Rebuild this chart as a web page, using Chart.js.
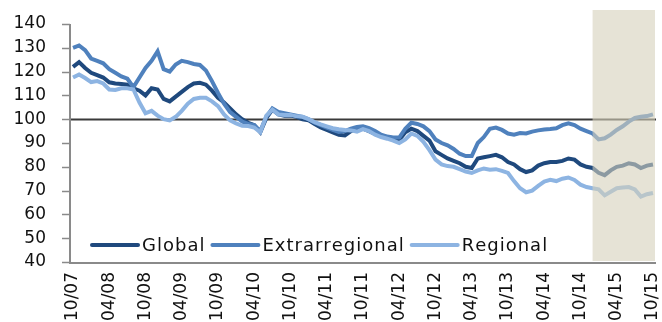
<!DOCTYPE html>
<html>
<head>
<meta charset="utf-8">
<script src="https://cdn.jsdelivr.net/npm/chart.js@4/dist/chart.umd.min.js"></script>
<style>
  html, body { margin: 0; padding: 0; background: #ffffff; }
  #wrap { width: 662px; height: 322px; position: relative; }
</style>
</head>
<body>
<div id="wrap"><canvas id="chart"></canvas></div>
<script>
// Monthly index series, October 2007 to October 2015 (base = 100)
const globalSeries = [
  122, 124, 121.5, 119.5, 118.5, 117.5, 115.5, 115, 114.8, 114.5,
  113, 112, 110, 113, 112.5, 108.5, 107.5, 109.5, 111.5, 113.5,
  115, 115.3, 114.5, 112, 109, 107, 104.5, 102, 100, 98.5,
  97.5, 94.5, 100.5, 104, 102, 101.5, 101.5, 101, 100, 99.5,
  98, 96.5, 95.5, 94.5, 93.5, 93.2, 95, 96, 96, 95,
  93.8, 93, 92.5, 92, 91.3, 94.5, 96, 95, 93, 91,
  86.5, 85, 83.5, 82.5, 81.5, 80, 79.5, 83.5, 84, 84.5,
  85, 84, 82, 81, 79, 77.8, 78.5, 80.5, 81.5, 82,
  82, 82.5, 83.5, 83, 81, 80, 79.5, 77.5, 76.5, 78.5,
  80, 80.5, 81.5, 81, 79.5, 80.5, 81
];
const extraSeries = [
  130, 131, 129, 125.5, 124.5, 123.5, 121, 119.5, 118, 117,
  113.5, 117.5, 121.5, 124.5, 128.5, 121, 120, 123, 124.5, 124,
  123.2, 122.8, 120.5, 116, 111, 106.5, 103, 101, 99, 98,
  97.5, 95, 101, 104.5, 103, 102.5, 102, 101.5, 101, 100,
  98.5, 97.5, 96.5, 95.5, 94.6, 95, 96, 96.7, 97, 96.3,
  95, 93.5, 92.7, 92.3, 92.3, 96, 98.5, 98, 97, 95,
  91.5, 90, 89, 87.5, 85.5, 84.5, 84.5, 90, 92.5, 96,
  96.5, 95.5, 94, 93.5, 94.2, 94, 94.8, 95.3, 95.7, 95.9,
  96.2, 97.5, 98.3, 97.5, 96, 95, 94, 91.5, 92, 93.5,
  95.5, 97, 99, 100.5, 101, 101.3, 102
];
const regionalSeries = [
  117.5, 118.8, 117.3, 115.6, 116, 115, 112.5, 112.3, 113, 113,
  112.5, 107, 102.5, 103.5, 101.5, 100, 99.5, 101, 103.5, 106.5,
  108.5, 109, 109, 107.5, 105.5, 102, 99.5, 98.2, 97.2, 97.1,
  96.5, 94.5, 101.5, 104, 102, 101.8, 101.8, 101.2, 101, 100,
  98.8, 97.8, 97, 96.2, 95.8, 95.5, 95.3, 94.8, 95.8, 95,
  93.5, 92.5, 91.8, 91, 90, 91.5, 94, 93, 90.5, 87,
  83, 81, 80.3, 80, 79, 78, 77.4, 78.5, 79.3, 78.8,
  79, 78.3, 77.4, 74, 71, 69.3, 70, 72, 73.8, 74.5,
  74, 75, 75.5, 74.5, 72.5, 71.5, 71, 70.5, 68, 69.5,
  71, 71.3, 71.5, 70.5, 67.5, 68.5, 69
];

// Axis labels shown under the chart (every six months)
const tickLabels = ['10/07', '04/08', '10/08', '04/09', '10/09', '04/10', '10/10',
  '04/11', '10/11', '04/12', '10/12', '04/13', '10/13', '04/14', '10/14', '04/15', '10/15'];

// Base level of the index
const baseLevel = 100;

// Forecast period starts after this month
const forecastFrom = '12/14';

// Month categories MM/YY
const months = [];
for (let i = 0; i < globalSeries.length; i++) {
  const k = 9 + i;
  const m = (k % 12) + 1;
  const y = 7 + Math.floor(k / 12);
  months.push(String(m).padStart(2, '0') + '/' + String(y).padStart(2, '0'));
}

const FONT = 'DejaVu Sans';
const AXIS_GREY = '#8a8a8a';

// Horizontal reference line at the base level, under the series
const baseLine = {
  id: 'baseLine',
  beforeDatasetsDraw(chart) {
    const { ctx, chartArea, scales } = chart;
    const yPix = Math.round(scales.y.getPixelForValue(baseLevel)) + 0.5;
    ctx.save();
    ctx.strokeStyle = '#3a3a3a';
    ctx.lineWidth = 1.8;
    ctx.beginPath();
    ctx.moveTo(chartArea.left, yPix);
    ctx.lineTo(chartArea.right, yPix);
    ctx.stroke();
    ctx.restore();
  }
};

// Shaded forecast band, painted over the lines
const forecastBand = {
  id: 'forecastBand',
  afterDatasetsDraw(chart) {
    const { ctx, chartArea, scales } = chart;
    const x0 = scales.x.getPixelForValue(months.indexOf(forecastFrom));
    ctx.save();
    ctx.fillStyle = 'rgba(213, 208, 187, 0.6)';
    ctx.fillRect(x0, 10, chartArea.right - 1 - x0, chartArea.bottom - 1 - 10);
    ctx.restore();
  }
};

// Axis lines and y tick marks
const axisLines = {
  id: 'axisLines',
  afterDraw(chart) {
    const { ctx, chartArea, scales } = chart;
    ctx.save();
    ctx.strokeStyle = AXIS_GREY;
    ctx.lineWidth = 2;
    ctx.beginPath();
    ctx.moveTo(chartArea.left, chartArea.top);
    ctx.lineTo(chartArea.left, chartArea.bottom + 1);
    ctx.lineTo(chartArea.right, chartArea.bottom + 1);
    ctx.stroke();
    ctx.lineWidth = 1.5;
    ctx.beginPath();
    scales.y.ticks.forEach(t => {
      const yPix = Math.round(scales.y.getPixelForValue(t.value)) + 0.5;
      ctx.moveTo(chartArea.left - 8, yPix);
      ctx.lineTo(chartArea.left, yPix);
    });
    ctx.stroke();
    ctx.restore();
  }
};

// Legend drawn inside the plot, along the bottom
const innerLegend = {
  id: 'innerLegend',
  afterDraw(chart) {
    const { ctx } = chart;
    const y = 245;
    let x = 92;
    ctx.save();
    ctx.font = '18px "' + FONT + '"';
    ctx.textBaseline = 'middle';
    ctx.textAlign = 'left';
    const spacing = 1;
    chart.data.datasets.forEach(ds => {
      ctx.strokeStyle = ds.borderColor;
      ctx.lineWidth = 4;
      ctx.lineCap = 'round';
      ctx.beginPath();
      ctx.moveTo(x, y);
      ctx.lineTo(x + 46, y);
      ctx.stroke();
      ctx.fillStyle = '#111111';
      let tx = x + 50;
      for (const ch of ds.label) {
        ctx.fillText(ch, tx, y + 1);
        tx += ctx.measureText(ch).width + spacing;
      }
      x = tx + 7;
    });
    ctx.restore();
  }
};

new Chart(document.getElementById('chart'), {
  type: 'line',
  data: {
    labels: months,
    datasets: [
      { label: 'Global', data: globalSeries, borderColor: '#1f497d', borderWidth: 4, pointRadius: 0, tension: 0, order: 3 },
      { label: 'Extrarregional', data: extraSeries, borderColor: '#4f81bd', borderWidth: 4, pointRadius: 0, tension: 0, order: 2 },
      { label: 'Regional', data: regionalSeries, borderColor: '#8db4e2', borderWidth: 4, pointRadius: 0, tension: 0, order: 1 }
    ]
  },
  options: {
    responsive: true,
    maintainAspectRatio: false,
    animation: false,
    layout: { padding: { left: 0, right: 6, top: 24, bottom: 0 } },
    plugins: {
      legend: { display: false },
      tooltip: { enabled: false }
    },
    scales: {
      x: {
        offset: true,
        afterFit(scale) {
          scale.height = 60;
          scale.paddingLeft = 0;
          scale.paddingRight = 0;
        },
        border: { display: false },
        grid: { display: false, drawTicks: false },
        ticks: {
          autoSkip: false,
          minRotation: 90,
          maxRotation: 90,
          padding: 10,
          color: '#111111',
          font: { family: FONT, size: 17 },
          callback(value) {
            const lab = months[value];
            return tickLabels.includes(lab) ? lab : '';
          }
        }
      },
      y: {
        min: 40,
        max: 140,
        afterFit(scale) {
          scale.width = 70;
          scale.paddingTop = 0;
          scale.paddingBottom = 0;
        },
        border: { display: false },
        grid: { display: false, drawTicks: true, tickLength: 8 },
        ticks: {
          stepSize: 10,
          padding: 16,
          color: '#111111',
          font: { family: FONT, size: 17 }
        }
      }
    }
  },
  plugins: [baseLine, forecastBand, axisLines, innerLegend]
});
</script>
</body>
</html>
